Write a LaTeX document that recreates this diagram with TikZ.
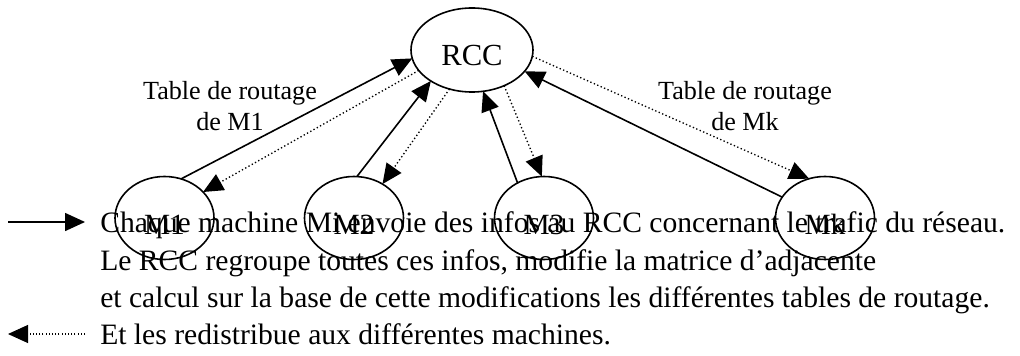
\documentclass[tikz,border=0pt]{standalone}
\usepackage{fontspec}
\setmainfont{Liberation Serif}
\usetikzlibrary{shapes.geometric,arrows.meta}
\begin{document}
\begin{tikzpicture}[x=0.75pt,y=-0.75pt,
  bubble/.style={draw,ellipse,line width=1.2pt,inner sep=0pt,outer sep=0pt,
    minimum width=74.25pt,minimum height=62.25pt,text height=25pt,text depth=0pt,
    font=\fontsize{22}{26}\selectfont},
  hub/.style={bubble,minimum width=91.5pt,minimum height=63pt,text height=22.8pt,
    font=\fontsize{23}{27}\selectfont},
  tip/.style={-{Triangle[length=15pt,width=13.5pt]}},
  upd/.style={tip,line width=1.2pt},
  tbl/.style={tip,line width=1pt,dash pattern=on 1pt off 1.8pt},
  lbl/.style={align=center,inner sep=0pt,anchor=north,font=\fontsize{19.6}{23.3}\selectfont},
  txt/.style={anchor=base west,inner sep=0pt,font=\fontsize{22.2}{27}\selectfont}]
\useasboundingbox (0,0) rectangle (1020,356);

% central routing controller and the machines
\node[hub] (rcc) at (472,50) {RCC};
\node[bubble] (m1) at (164.5,218) {M1};
\node[bubble] (m2) at (354,218) {M2};
\node[bubble] (m3) at (544,218) {M3};
\node[bubble] (mk) at (825,218) {Mk};

% traffic reports (solid) and routing tables sent back (dotted)
\draw[upd] (m1.67) -- (rcc.188);
\draw[tbl] (rcc.201) -- (m1.34);
\draw[upd] (m2.86) -- (rcc.217);
\draw[tbl] (rcc.240) -- (m2.50);
\draw[upd] (m3.127) -- (rcc.285);
\draw[tbl] (rcc.312) -- (m3.93);
\draw[upd] (mk.154) -- (rcc.338);
\draw[tbl] (rcc.354) -- (mk.112);

% edge labels
\node[lbl] (lab1) at (230,81) {Table de routage\\de M1};
\node[lbl] (labk) at (745,81) {Table de routage\\de Mk};

% legend
\coordinate (sa) at (8,222);
\coordinate (sb) at (85,222);
\draw[upd] (sa) -- (sb);
\coordinate (da) at (85,334);
\coordinate (db) at (8,334);
\draw[tip,line width=0.8pt,dash pattern=on 0.8pt off 1.6pt] (da) -- (db);

\node[txt] (l1) at (100,232) {Chaque machine Mi envoie des infos au RCC concernant le trafic du réseau.};
\node[txt] (l2) at (100,270) {Le RCC regroupe toutes ces infos, modifie la matrice d’adjacente};
\node[txt] (l3) at (100,307) {et calcul sur la base de cette modifications les différentes tables de routage.};
\node[txt] (l4) at (100,344) {Et les redistribue aux différentes machines.};
\end{tikzpicture}
\end{document}
